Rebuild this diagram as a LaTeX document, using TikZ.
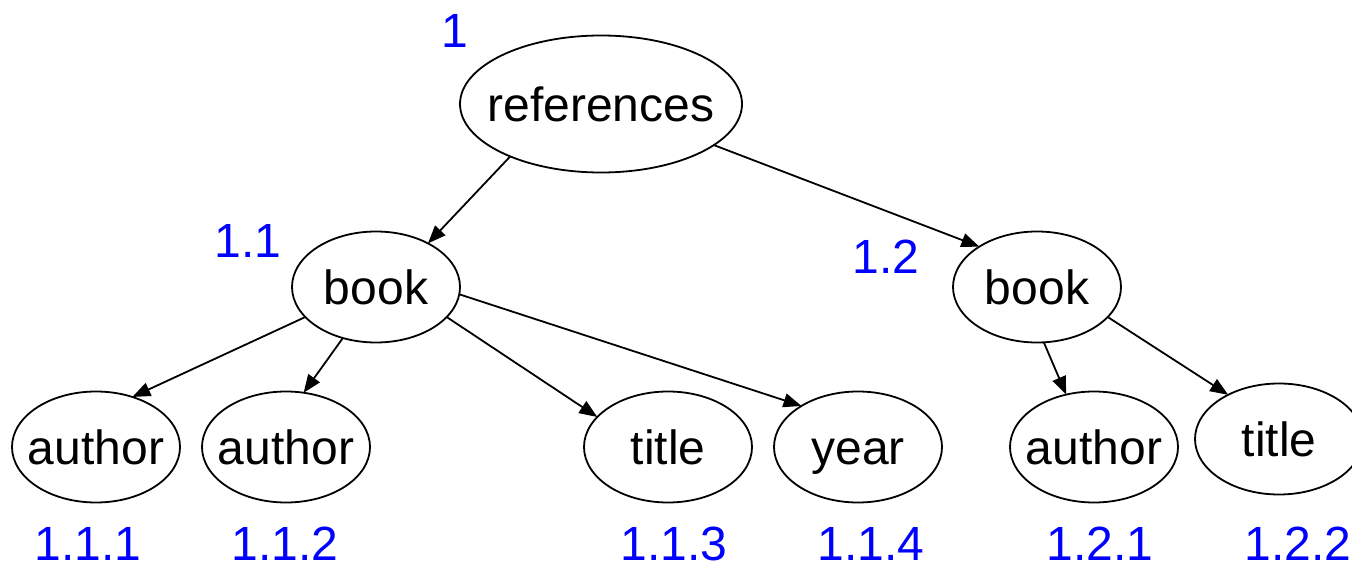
\documentclass[tikz,border=0pt]{standalone}
\usepackage{fontspec}
\setmainfont{Liberation Sans}
\usetikzlibrary{arrows.meta,shapes.geometric}
\definecolor{cnum}{RGB}{0,0,255}
\newcommand\ctext[1]{\makebox[0pt]{#1}}
\tikzset{
  xmltree/.style={x=1pt,y=-1pt,line width=1.8pt,font=\fontsize{48}{56}\selectfont},
  elem/.style={draw,ellipse,inner sep=0pt,outer sep=0pt,minimum width=168pt,minimum height=111pt,text height=35pt,text depth=0pt},
  num/.style={cnum,inner sep=0pt,text height=35pt,text depth=0pt},
  edge/.style={line width=1.8pt,-{Triangle[length=18pt,width=14pt]}}
}

\begin{document}
\begin{tikzpicture}[xmltree]
    \useasboundingbox (0,0) rectangle (1352,564);
    % element nodes
    \node[elem,minimum width=282pt,minimum height=137pt] (refs) at (601,104) {\ctext{references}};
    \node[elem] (book1)  at (376,287)  {\ctext{book}};
    \node[elem] (book2)  at (1037,287) {\ctext{book}};
    \node[elem] (auth1)  at (96,447)   {\ctext{author}};
    \node[elem] (auth2)  at (286,447)  {\ctext{author}};
    \node[elem] (title1) at (668,447)  {\ctext{title}};
    \node[elem] (year1)  at (858,447)  {\ctext{year}};
    \node[elem] (auth3)  at (1094,447) {\ctext{author}};
    \node[elem] (title2) at (1279,439) {\ctext{title}};
    % numbering
    \node[num] (n1)   at (455,30)   {1};
    \node[num] (n11)  at (248,240)  {1.1};
    \node[num] (n12)  at (886,256)  {1.2};
    \node[num] (n111) at (88,543)   {1.1.1};
    \node[num] (n112) at (285,543)  {1.1.2};
    \node[num] (n113) at (674,543)  {1.1.3};
    \node[num] (n114) at (871,543)  {1.1.4};
    \node[num] (n121) at (1100,543) {1.2.1};
    \node[num] (n122) at (1298,543) {1.2.2};
    % edges
    \draw[edge] (refs.210)   -- (book1.40);
    \draw[edge] (refs.340)   -- (book2.145);
    \draw[edge] (book1.203)  -- (auth1.54);
    \draw[edge] (book1.237)  -- (auth2.72);
    \draw[edge] (book1.337)  -- (title1.157);
    \draw[edge] (book1.355)  -- (year1.144);
    \draw[edge] (book2.277)  -- (auth3.118);
    \draw[edge] (book2.337)  -- (title2.139);
\end{tikzpicture}
\end{document}
